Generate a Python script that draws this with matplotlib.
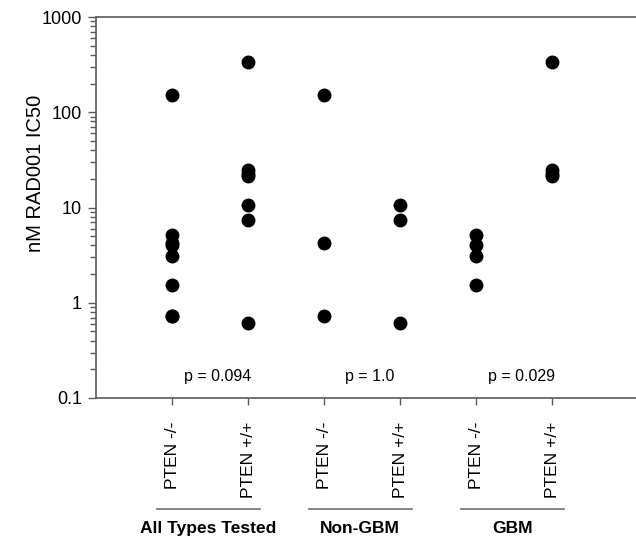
import numpy as np
import matplotlib
matplotlib.use("Agg")
import matplotlib.pyplot as plt
from matplotlib.ticker import LogLocator, NullFormatter

plt.rcParams['font.family'] = ['Liberation Sans', 'DejaVu Sans']

# ---- data (nM RAD001 IC50) ----
tick_labels = ['PTEN -/-', 'PTEN +/+', 'PTEN -/-', 'PTEN +/+', 'PTEN -/-', 'PTEN +/+']
all_neg = [150, 5.1, 4.2, 4.0, 3.1, 1.55, 0.72, 0.72]
all_pos = [337, 24.5, 22.5, 21.2, 10.5, 7.4, 0.61]
nongbm_neg = [150, 4.2, 0.72]
nongbm_pos = [10.5, 7.4, 0.61]
gbm_neg = [5.1, 4.0, 3.1, 1.55]
gbm_pos = [337, 24.5, 22.5, 21.2]
series = [all_neg, all_pos, nongbm_neg, nongbm_pos, gbm_neg, gbm_pos]

groups = ['All Types Tested', 'Non-GBM', 'GBM']
p_values = ['p = 0.094', 'p = 1.0', 'p = 0.029']

# ---- figure ----
fig = plt.figure(figsize=(6.36, 5.40), dpi=100)
ax = fig.add_axes([96 / 636, 142 / 540, 1 - 96 / 636, 381 / 540])

for i, vals in enumerate(series):
    xs = np.full(len(vals), i + 1)
    ax.plot(xs, vals, 'o', color='black', markersize=9, clip_on=False)

ax.set_yscale('log')
ax.set_ylim(0.1, 1000)
ax.set_xlim(0, 7.1)
ax.set_yticks([0.1, 1, 10, 100, 1000])
ax.set_yticklabels(['0.1', '1', '10', '100', '1000'])
ax.yaxis.set_minor_locator(LogLocator(base=10, subs=np.arange(2, 10)))
ax.yaxis.set_minor_formatter(NullFormatter())

ax.set_xticks(range(1, 7))
ax.set_xticklabels(tick_labels, rotation=90, fontsize=12.5, va='top')

spine_col = '#5a5a5a'
for side in ['left', 'top', 'bottom']:
    ax.spines[side].set_color(spine_col)
    ax.spines[side].set_linewidth(1.2)
ax.spines['right'].set_visible(False)

ax.tick_params(axis='y', which='major', direction='out', length=6, width=1,
               color=spine_col, labelsize=13, pad=4)
ax.tick_params(axis='y', which='minor', direction='out', length=4, width=1,
               color=spine_col)
ax.tick_params(axis='x', which='major', direction='out', length=5, width=1,
               color=spine_col, pad=12)

ax.set_ylabel('nM RAD001 IC50', fontsize=14.5)
ax.yaxis.set_label_coords(-0.094, 0.59)

# p-values and group brackets
trans = ax.get_xaxis_transform()
for g in range(3):
    first, last = 2 * g + 1, 2 * g + 2
    mid = (first + last) / 2
    ax.text(mid + 0.1, 0.17, p_values[g], ha='center', va='center', fontsize=11.5)
    x0, x1 = first - 0.2, last + 0.15
    ax.plot([x0, x1], [-0.291, -0.291], color='#707070', lw=1.2,
            transform=trans, clip_on=False)
    ax.text((x0 + x1) / 2, -0.342, groups[g], ha='center', va='center',
            fontsize=12.5, fontweight='bold', transform=trans)

fig.savefig('out.png', dpi=100)
